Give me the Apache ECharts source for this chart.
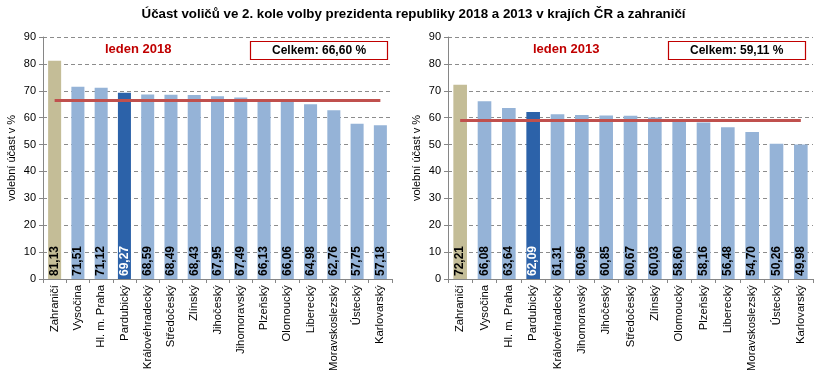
<!DOCTYPE html>
<html><head><meta charset="utf-8">
<script src="https://cdn.jsdelivr.net/npm/echarts@6/dist/echarts.min.js"></script>
<style>html,body{margin:0;padding:0;background:#fff}#c{width:827px;height:374px}</style>
</head><body><div id="c"></div>
<script>
const chartTitle = 'Účast voličů ve 2. kole volby prezidenta republiky 2018 a 2013 v krajích ČR a zahraničí';
const yAxisName = 'volební účast v %';
const cats2018 = ['Zahraničí','Vysočina','Hl. m. Praha','Pardubický','Královéhradecký','Středočeský','Zlínský','Jihočeský','Jihomoravský','Plzeňský','Olomoucký','Liberecký','Moravskoslezský','Ústecký','Karlovarský'];
const vals2018 = [81.13,71.51,71.12,69.27,68.59,68.49,68.43,67.95,67.49,66.13,66.06,64.98,62.76,57.75,57.18];
const cats2013 = ['Zahraničí','Vysočina','Hl. m. Praha','Pardubický','Královéhradecký','Jihomoravský','Jihočeský','Středočeský','Zlínský','Olomoucký','Plzeňský','Liberecký','Moravskoslezský','Ústecký','Karlovarský'];
const vals2013 = [72.21,66.08,63.64,62.09,61.31,60.96,60.85,60.67,60.03,58.60,58.16,56.48,54.70,50.26,49.98];
const total2018 = 66.60;
const total2013 = 59.11;
const panelLabels = ['leden 2018','leden 2013'];

const FONT = '"Liberation Sans", Arial, sans-serif';
const fmt = v => v.toFixed(2).replace('.', ',');
const colorFor = name => name === 'Zahraničí' ? '#c4bd97' : (name === 'Pardubický' ? '#2c62a9' : '#95b3d7');

function barSeries(cats, vals, total, idx) {
  return {
    type: 'bar', xAxisIndex: idx, yAxisIndex: idx,
    barWidth: '56%',
    data: vals.map((v, i) => ({
      value: v,
      itemStyle: { color: colorFor(cats[i]) },
      label: { color: cats[i] === 'Pardubický' ? '#fff' : '#000' }
    })),
    label: {
      show: true, position: 'insideBottom', rotate: 90, align: 'left', verticalAlign: 'middle',
      distance: 3, fontFamily: FONT, fontWeight: 'bold', fontSize: 12,
      formatter: p => fmt(p.value)
    },
    markLine: {
      silent: true, symbol: 'none', label: { show: false },
      lineStyle: { color: '#c0504d', width: 3, type: 'solid' },
      data: [[{ xAxis: cats[0], yAxis: total }, { xAxis: cats[cats.length - 1], yAxis: total }]]
    }
  };
}
function xAx(cats, idx) {
  return {
    type: 'category', gridIndex: idx, data: cats,
    axisLine: { lineStyle: { color: '#868686' } },
    axisTick: { show: true, length: 4, lineStyle: { color: '#868686' } },
    axisLabel: { rotate: 90, fontFamily: FONT, fontSize: 11.3, color: '#000', interval: 0, margin: 6 }
  };
}
function yAx(idx) {
  return {
    type: 'value', gridIndex: idx, min: 0, max: 90, interval: 10,
    name: yAxisName, nameLocation: 'middle', nameRotate: 90, nameGap: 26,
    nameTextStyle: { fontFamily: FONT, fontSize: 11, color: '#000' },
    axisLine: { show: true, lineStyle: { color: '#868686' } },
    axisTick: { show: true, length: 4, lineStyle: { color: '#868686' } },
    axisLabel: { fontFamily: FONT, fontSize: 11, color: '#000', margin: 7 },
    splitLine: { lineStyle: { color: '#8c8c8c', type: [4, 3] } }
  };
}
const boxTitle = (text, left) => ({
  text, left, top: 41,
  padding: [3, 22, 3, 22], borderColor: '#c00000', borderWidth: 1.2,
  textStyle: { fontFamily: FONT, fontSize: 12, fontWeight: 'bold', color: '#000', lineHeight: 13 }
});
const option = {
  animation: false,
  title: [
    { text: chartTitle, left: 'center', top: 3, textStyle: { fontFamily: FONT, fontSize: 13.3, fontWeight: 'bold', color: '#000' } },
    { text: panelLabels[0], left: 105, top: 43, padding: 0, textStyle: { fontFamily: FONT, fontSize: 13, fontWeight: 'bold', color: '#c00000' } },
    { text: panelLabels[1], left: 533, top: 43, padding: 0, textStyle: { fontFamily: FONT, fontSize: 13, fontWeight: 'bold', color: '#c00000' } },
    boxTitle('Celkem: ' + fmt(total2018) + ' %', 250),
    boxTitle('Celkem: ' + fmt(total2013) + ' %', 668)
  ],
  grid: [
    { left: 43, right: 435, top: 37, bottom: 95 },
    { left: 448, right: 14, top: 37, bottom: 95 }
  ],
  xAxis: [xAx(cats2018, 0), xAx(cats2013, 1)],
  yAxis: [yAx(0), yAx(1)],
  series: [barSeries(cats2018, vals2018, total2018, 0), barSeries(cats2013, vals2013, total2013, 1)]
};
const chart = echarts.init(document.getElementById('c'), null, { renderer: 'canvas' });
chart.setOption(option);
</script></body></html>
